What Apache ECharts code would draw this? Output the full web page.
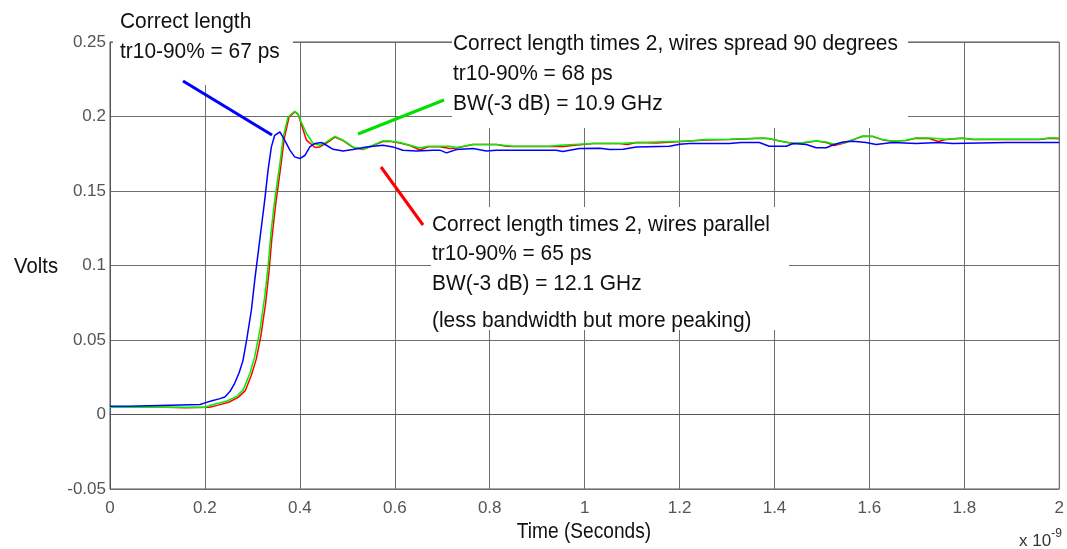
<!DOCTYPE html>
<html>
<head>
<meta charset="utf-8">
<script src="https://cdn.jsdelivr.net/npm/echarts@6/dist/echarts.min.js"></script>
<style>
html, body { margin: 0; padding: 0; background: #fff; }
#main { width: 1067px; height: 549px; }
</style>
</head>
<body>
<div id="main"></div>
<script>
// time in ns (axis shows x 10^-9 s), values in volts
var blueT = [0, 0.04, 0.042, 0.19, 0.2, 0.215, 0.23, 0.242, 0.253, 0.262, 0.272, 0.28, 0.288, 0.298, 0.305, 0.312, 0.319, 0.326, 0.333, 0.34, 0.347, 0.358, 0.368, 0.379, 0.389, 0.4, 0.411, 0.421, 0.432, 0.446, 0.456, 0.47, 0.491, 0.512, 0.54, 0.575, 0.596, 0.617, 0.646, 0.681, 0.695, 0.709, 0.73, 0.765, 0.793, 0.814, 0.94, 0.954, 0.989, 1.032, 1.053, 1.081, 1.109, 1.179, 1.2, 1.221, 1.305, 1.33, 1.368, 1.389, 1.425, 1.439, 1.467, 1.488, 1.509, 1.526, 1.544, 1.565, 1.593, 1.614, 1.649, 1.698, 1.747, 1.775, 1.888, 2.0];
var blueV = [0.0056, 0.0056, 0.0067, 0.0067, 0.0078, 0.0092, 0.0105, 0.0118, 0.0156, 0.0205, 0.028, 0.036, 0.0502, 0.0703, 0.0904, 0.1082, 0.126, 0.1439, 0.164, 0.1796, 0.1874, 0.1896, 0.1841, 0.1774, 0.1729, 0.1718, 0.174, 0.1796, 0.1819, 0.1825, 0.1807, 0.178, 0.1769, 0.1778, 0.1796, 0.1807, 0.1796, 0.1774, 0.1769, 0.1774, 0.1774, 0.1756, 0.1778, 0.1785, 0.1769, 0.1774, 0.1774, 0.1765, 0.1785, 0.1787, 0.1778, 0.178, 0.1796, 0.18, 0.1814, 0.1819, 0.1819, 0.1825, 0.1825, 0.18, 0.18, 0.1819, 0.1812, 0.179, 0.179, 0.1812, 0.1829, 0.1834, 0.1825, 0.1812, 0.1825, 0.1819, 0.1825, 0.1819, 0.1825, 0.1825];

var greenT = [0, 0.2, 0.217, 0.245, 0.267, 0.281, 0.295, 0.305, 0.316, 0.326, 0.333, 0.339, 0.347, 0.358, 0.365, 0.375, 0.389, 0.396, 0.403, 0.414, 0.428, 0.442, 0.456, 0.474, 0.491, 0.512, 0.533, 0.554, 0.575, 0.589, 0.611, 0.632, 0.653, 0.67, 0.716, 0.73, 0.765, 0.814, 0.849, 0.926, 0.947, 1.018, 1.074, 1.109, 1.151, 1.221, 1.256, 1.305, 1.375, 1.389, 1.411, 1.439, 1.46, 1.488, 1.509, 1.526, 1.547, 1.565, 1.586, 1.607, 1.628, 1.649, 1.677, 1.698, 1.726, 1.761, 1.796, 1.818, 1.958, 1.979, 2.0];
var greenV = [0.0049, 0.0049, 0.0067, 0.0089, 0.0122, 0.0167, 0.0279, 0.039, 0.0569, 0.0792, 0.0993, 0.1216, 0.1439, 0.1685, 0.1863, 0.1997, 0.2035, 0.2019, 0.1963, 0.1886, 0.1819, 0.1807, 0.1829, 0.1867, 0.1841, 0.1796, 0.178, 0.1807, 0.1836, 0.1836, 0.1825, 0.1807, 0.1789, 0.18, 0.18, 0.1792, 0.1812, 0.1812, 0.18, 0.18, 0.1807, 0.1819, 0.1819, 0.1825, 0.1829, 0.1836, 0.1845, 0.1847, 0.1856, 0.1852, 0.1836, 0.1819, 0.1825, 0.1836, 0.1829, 0.1814, 0.1825, 0.1845, 0.1869, 0.1867, 0.1845, 0.1834, 0.1841, 0.1856, 0.1856, 0.1847, 0.1856, 0.1847, 0.1847, 0.1856, 0.1856];

var redT = [0, 0.115, 0.118, 0.16, 0.163, 0.21, 0.228, 0.25, 0.27, 0.285, 0.298, 0.308, 0.318, 0.328, 0.335, 0.341, 0.349, 0.36, 0.367, 0.377, 0.39, 0.397, 0.404, 0.414, 0.432, 0.442, 0.456, 0.474, 0.491, 0.512, 0.533, 0.554, 0.575, 0.589, 0.611, 0.632, 0.653, 0.67, 0.695, 0.716, 0.73, 0.765, 0.814, 0.835, 0.849, 0.926, 0.94, 0.955, 0.98, 1.018, 1.074, 1.09, 1.109, 1.151, 1.221, 1.256, 1.305, 1.375, 1.389, 1.411, 1.439, 1.46, 1.488, 1.509, 1.526, 1.547, 1.565, 1.586, 1.607, 1.628, 1.649, 1.677, 1.698, 1.726, 1.745, 1.761, 1.796, 1.818, 1.958, 1.979, 2.0];
var redV = [0.0049, 0.0049, 0.0045, 0.0045, 0.0049, 0.0049, 0.0063, 0.0082, 0.0115, 0.016, 0.0265, 0.037, 0.053, 0.075, 0.096, 0.118, 0.141, 0.167, 0.185, 0.1995, 0.2032, 0.201, 0.194, 0.1841, 0.1792, 0.1796, 0.1822, 0.1862, 0.1838, 0.1792, 0.1778, 0.1805, 0.1832, 0.1834, 0.1822, 0.1805, 0.1775, 0.1797, 0.1797, 0.1785, 0.1788, 0.1812, 0.1812, 0.18, 0.1798, 0.1799, 0.18, 0.1798, 0.1807, 0.1819, 0.1819, 0.1812, 0.1825, 0.1822, 0.1836, 0.1843, 0.1845, 0.1854, 0.185, 0.1836, 0.1819, 0.1822, 0.1836, 0.1825, 0.1805, 0.1822, 0.1843, 0.1867, 0.1865, 0.1843, 0.1834, 0.1839, 0.1854, 0.1852, 0.1832, 0.1845, 0.1854, 0.1845, 0.1845, 0.1854, 0.185];

var note1 = ['Correct length', 'tr10-90% = 67 ps'];
var note2 = ['Correct length times 2, wires spread 90 degrees', 'tr10-90% = 68 ps', 'BW(-3 dB) = 10.9 GHz'];
var note3 = ['Correct length times 2, wires parallel', 'tr10-90% = 65 ps', 'BW(-3 dB) = 12.1 GHz', '(less bandwidth but more peaking)'];

function pairs(t, v) {
    var out = [];
    for (var i = 0; i < t.length; i++) out.push([t[i], v[i]]);
    return out;
}

var sans = "'Liberation Sans', Arial, sans-serif";

// condensed look: regular sans squeezed sideways
function label(s, x, y, align, squeeze) {
    return {
        type: 'text', x: x, y: y, z: 60, scaleX: squeeze,
        style: { text: s, fontSize: 22, fontFamily: sans, fill: '#111', align: align, verticalAlign: 'middle' }
    };
}

function textLines(lines, x, ys) {
    return lines.map(function (s, i) { return label(s, x, ys[i], 'left', 0.95); });
}

function whiteBox(x, y, w, h) {
    return { type: 'rect', z: 50, shape: { x: x, y: y, width: w, height: h }, style: { fill: '#fff' } };
}

function pointer(x1, y1, x2, y2, color) {
    return { type: 'line', z: 60, shape: { x1: x1, y1: y1, x2: x2, y2: y2 }, style: { stroke: color, lineWidth: 3 } };
}

var chart = echarts.init(document.getElementById('main'));
var option = {
    animation: false,
    backgroundColor: '#fff',
    grid: {
        left: 110, right: 7, top: 42, bottom: 60,
        show: true, borderColor: '#555', borderWidth: 1
    },
    xAxis: {
        type: 'value', min: 0, max: 2, interval: 0.2,
        axisLine: { lineStyle: { color: '#555' } },
        axisTick: { show: false },
        axisLabel: { fontSize: 17, fontFamily: sans, color: '#555', margin: 11 },
        splitLine: { lineStyle: { color: '#6e6e6e', width: 1 } }
    },
    yAxis: {
        type: 'value', min: -0.05, max: 0.25, interval: 0.05,
        axisLine: { show: true, lineStyle: { color: '#555' } },
        axisTick: { show: false },
        axisLabel: { fontSize: 17, fontFamily: sans, color: '#555', margin: 4 },
        splitLine: { lineStyle: { color: '#6e6e6e', width: 1 } }
    },
    series: [
        { name: 'parallel', type: 'line', data: pairs(redT, redV), showSymbol: false, symbol: 'none',
          lineStyle: { color: '#ff0000', width: 1.5 }, z: 3 },
        { name: 'spread 90', type: 'line', data: pairs(greenT, greenV), showSymbol: false, symbol: 'none',
          lineStyle: { color: '#00f000', width: 1.5 }, z: 4 },
        { name: 'correct', type: 'line', data: pairs(blueT, blueV), showSymbol: false, symbol: 'none',
          lineStyle: { color: '#0000ff', width: 1.5 }, z: 5 }
    ],
    graphic: [
        whiteBox(113, 0, 180, 85),
        whiteBox(452, 20, 456, 108),
        whiteBox(431, 207, 358, 123)
    ].concat(
        textLines(note1, 120, [22, 52]),
        textLines(note2, 453, [44, 74, 104]),
        textLines(note3, 432, [225, 254, 284, 321]),
        [
            label('Volts', 58, 267, 'right', 0.92),
            label('Time (Seconds)', 584, 532, 'center', 0.87),
            pointer(183, 81, 272, 135, '#0000ff'),
            pointer(358, 134, 444, 100, '#00e000'),
            pointer(381, 167, 423, 225, '#ff0000'),
            {
                type: 'text', x: 1019, y: 541, z: 60,
                style: {
                    text: 'x 10{s|-9}', fontSize: 17, fontFamily: sans, fill: '#333', verticalAlign: 'middle',
                    rich: { s: { fontSize: 12, fontFamily: sans, fill: '#333', verticalAlign: 'bottom', padding: [0, 0, 14, 0] } }
                }
            }
        ]
    )
};
chart.setOption(option);
</script>
</body>
</html>
